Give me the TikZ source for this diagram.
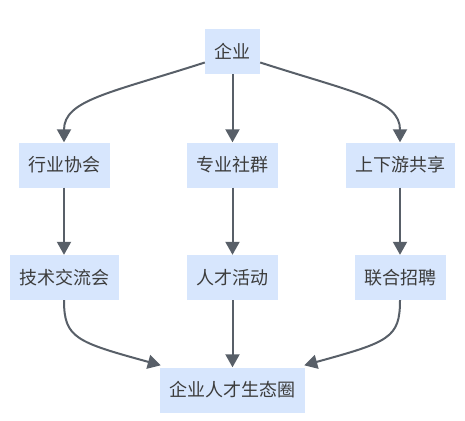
\documentclass[tikz,border=0pt]{standalone}
\usepackage{fontspec}
\newfontfamily\cjk{Noto Sans CJK SC}
\usetikzlibrary{arrows.meta}
\definecolor{boxblue}{RGB}{215,230,253}
\definecolor{txtgray}{RGB}{60,60,60}
\definecolor{linkgray}{RGB}{88,95,104}
\begin{document}
\begin{tikzpicture}[x=1pt, y=-1pt,
  box/.style={fill=boxblue, text=txtgray, font=\cjk\fontsize{18}{20}\selectfont,
    minimum height=45pt, inner xsep=9.5pt, inner ysep=0pt},
  link/.style={draw=linkgray, line width=2pt, -{Triangle[length=13pt, width=14pt]}}]
  \useasboundingbox (0,0) rectangle (465,420);
  % nodes
  \node[box] (qiye) at (232.5,51.5) {企业};
  \node[box] (xiehui) at (64,165) {行业协会};
  \node[box] (shequn) at (232.5,165) {专业社群};
  \node[box] (gongxiang) at (400,165) {上下游共享};
  \node[box] (jiaoliu) at (64,277.5) {技术交流会};
  \node[box] (huodong) at (232.5,277.5) {人才活动};
  \node[box] (zhaopin) at (400,277.5) {联合招聘};
  \node[box] (shengtai) at (232.5,390) {企业人才生态圈};
  % links
  \draw[link] ([yshift=-11pt]qiye.west) .. controls (110,93) and (64,100) .. (xiehui.north);
  \draw[link] (qiye.south) -- (shequn.north);
  \draw[link] ([yshift=-11pt]qiye.east) .. controls (355,93) and (400,100) .. (gongxiang.north);
  \draw[link] (xiehui.south) -- (jiaoliu.north);
  \draw[link] (shequn.south) -- (huodong.north);
  \draw[link] (gongxiang.south) -- (zhaopin.north);
  \draw[link] (jiaoliu.south) .. controls (64,338) and (76,342) .. ([shift={(1pt,2pt)}]shengtai.north west);
  \draw[link] (huodong.south) -- (shengtai.north);
  \draw[link] (zhaopin.south) .. controls (400,338) and (389,342) .. ([shift={(-1pt,2pt)}]shengtai.north east);
\end{tikzpicture}
\end{document}
